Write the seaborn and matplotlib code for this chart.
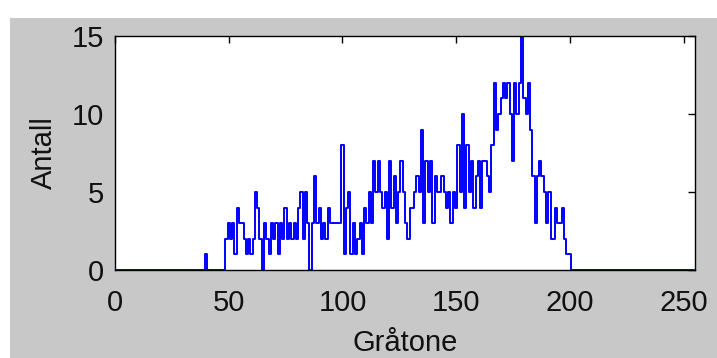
import numpy as np
import pandas as pd
import matplotlib
matplotlib.use('Agg')
import matplotlib.pyplot as plt
import seaborn as sns
from matplotlib.patches import Rectangle

# Histogram counts per gray level (0..255)
antall_40_til_200 = [
    1, 0, 0, 0, 0, 0, 0, 0, 0, 2,   # 40-49
    3, 2, 3, 1, 4, 3, 3, 2, 1, 2,   # 50-59
    1, 2, 5, 4, 2, 0, 3, 2, 1, 3,   # 60-69
    2, 3, 1, 3, 2, 4, 2, 3, 2, 3,   # 70-79
    2, 4, 5, 2, 5, 3, 0, 3, 6, 3,   # 80-89
    4, 2, 3, 2, 4, 3, 3, 3, 3, 3,   # 90-99
    8, 1, 4, 5, 1, 3, 1, 2, 3, 1,   # 100-109
    4, 3, 5, 3, 7, 5, 7, 5, 4, 5,   # 110-119
    2, 7, 4, 6, 3, 5, 7, 5, 3, 2,   # 120-129
    4, 4, 5, 6, 5, 9, 3, 7, 5, 7,   # 130-139
    3, 6, 5, 5, 6, 5, 4, 5, 3, 5,   # 140-149
    4, 8, 5, 10, 4, 8, 5, 7, 4, 6,  # 150-159
    7, 4, 7, 7, 6, 5, 8, 12, 9, 10, # 160-169
    11, 12, 11, 12, 10, 7, 12, 10, 12, 15,  # 170-179
    11, 10, 12, 9, 6, 3, 6, 7, 6, 5,  # 180-189
    3, 5, 2, 2, 4, 3, 3, 4, 2, 1,   # 190-199
    1,                              # 200
]
graatone = np.arange(256)
antall = np.zeros(256)
antall[40:201] = antall_40_til_200

df = pd.DataFrame({'graatone': graatone, 'antall': antall})

sns.set_style('white')
plt.rcParams['font.family'] = ['Liberation Sans Narrow', 'Liberation Sans', 'DejaVu Sans']

fig = plt.figure(figsize=(7.17, 3.58), dpi=100)
fig.patch.set_facecolor('white')
fig.patches.append(Rectangle((10 / 717, 0), 1, 1 - 18 / 358, transform=fig.transFigure,
                             facecolor='#c8c8c8', edgecolor='none', zorder=-10))
ax = fig.add_axes([115 / 717, 1 - 270 / 358, 580 / 717, 234 / 358])
ax.set_facecolor('white')

sns.lineplot(data=df, x='graatone', y='antall', color='#0000ff', linewidth=1.4,
             drawstyle='steps-mid', ax=ax)

ax.set_xlim(0, 255)
ax.set_ylim(0, 15)
ax.set_xticks([0, 50, 100, 150, 200, 250])
ax.set_yticks([0, 5, 10, 15])
ax.tick_params(direction='in', length=5, width=1, top=True, right=True,
               labelsize=21, colors='black', labelcolor='#111111')
ax.tick_params(axis='x', pad=14)
ax.tick_params(axis='y', pad=8)
for s in ax.spines.values():
    s.set_visible(True)
    s.set_color('black')
    s.set_linewidth(1)
ax.set_xlabel('Gråtone', fontsize=21, labelpad=8, color='#111111')
ax.set_ylabel('Antall', fontsize=21, labelpad=10, color='#111111')

fig.savefig('out.png', dpi=100, facecolor=fig.get_facecolor())
